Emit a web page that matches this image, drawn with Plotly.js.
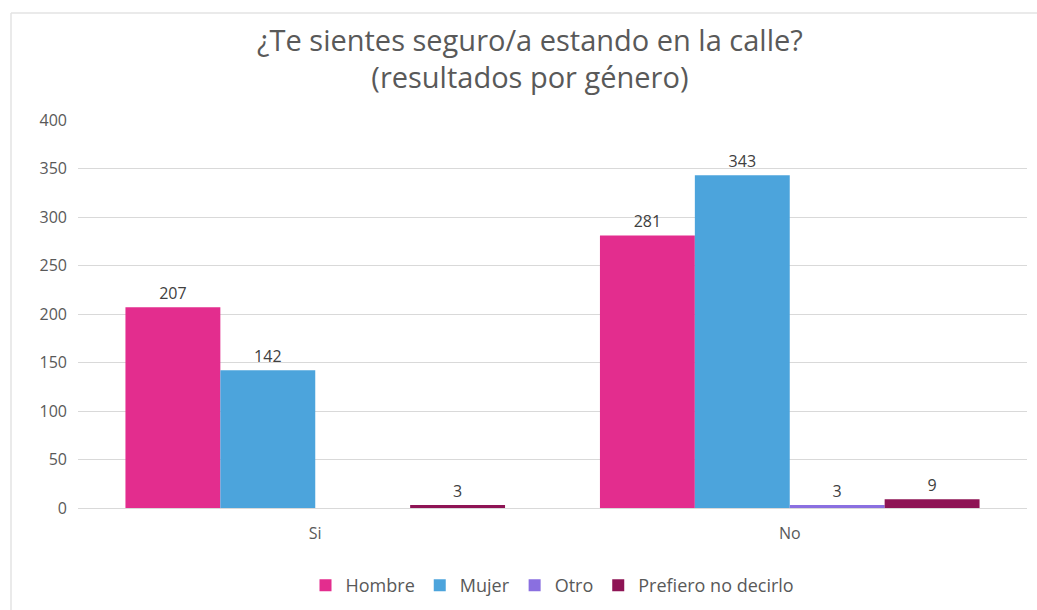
<!DOCTYPE html>
<html><head><meta charset="utf-8">
<script src="https://cdn.plot.ly/plotly-3.0.1.min.js"></script>
<style>html,body{margin:0;padding:0;background:#fff}#chart{width:1037px;height:610px}</style>
</head><body><div id="chart"></div>
<script>
const categories = ["Si", "No"];
const seriesNames = ["Hombre", "Mujer", "Otro", "Prefiero no decirlo"];
const hombre = [207, 281];
const mujer = [142, 343];
const otro = [0, 3];
const prefiero = [3, 9];
const yTicks = [0, 50, 100, 150, 200, 250, 300, 350, 400];
const colors = ["#E32D8E", "#4CA4DC", "#8A6FE0", "#8E1455"];

const values = [hombre, mujer, otro, prefiero];
const traces = values.map((v, i) => ({
  type: "bar",
  name: seriesNames[i],
  x: categories,
  y: v,
  text: v.map(d => d > 0 ? String(d) : ""),
  textposition: "outside",
  cliponaxis: false,
  textfont: {family: "Open Sans, sans-serif", size: 16, color: "#404040"},
  marker: {color: colors[i]},
  hoverinfo: "x+y+name"
}));

const layout = {
  width: 1037, height: 610,
  margin: {l: 78, r: 10, t: 120, b: 102},
  paper_bgcolor: "#fff", plot_bgcolor: "#fff",
  barmode: "group", bargap: 0.2, bargroupgap: 0,
  title: {
    text: "¿Te sientes seguro/a estando en la calle?<br>(resultados por género)",
    font: {family: "Open Sans, sans-serif", size: 29, color: "#595959"},
    x: 0.511, xref: "container", xanchor: "center",
    y: 0.917, yref: "container", yanchor: "middle"
  },
  xaxis: {
    showgrid: false, zeroline: false, showline: false, ticks: "",
    automargin: false,
    tickfont: {family: "Open Sans, sans-serif", size: 16, color: "#595959"},
    ticklabelstandoff: 14
  },
  yaxis: {
    range: [0, 400], tickvals: yTicks, ticktext: yTicks.map(String),
    automargin: false,
    showgrid: true, gridcolor: "#D9D9D9", gridwidth: 1,
    zeroline: true, zerolinecolor: "#D9D9D9", zerolinewidth: 1,
    showline: false, ticks: "",
    tickfont: {family: "Open Sans, sans-serif", size: 16, color: "#595959"},
    ticklabelstandoff: 10
  },
  legend: {
    orientation: "h", x: 0.5, xanchor: "center",
    y: 0.04, yref: "container", yanchor: "middle",
    font: {family: "Open Sans, sans-serif", size: 18, color: "#595959"},
    itemwidth: 30
  },
  showlegend: true,
  shapes: [
    {type: "line", xref: "paper", yref: "paper", x0: -0.0706, x1: 1.2, y0: 1.2758, y1: 1.2758, line: {color: "#E3E3E3", width: 1.5}},
    {type: "line", xref: "paper", yref: "paper", x0: -0.0706, x1: -0.0706, y0: 1.2758, y1: -0.5, line: {color: "#E3E3E3", width: 1.5}}
  ]
};

Plotly.newPlot("chart", traces, layout, {displayModeBar: false, staticPlot: true});
</script></body></html>
